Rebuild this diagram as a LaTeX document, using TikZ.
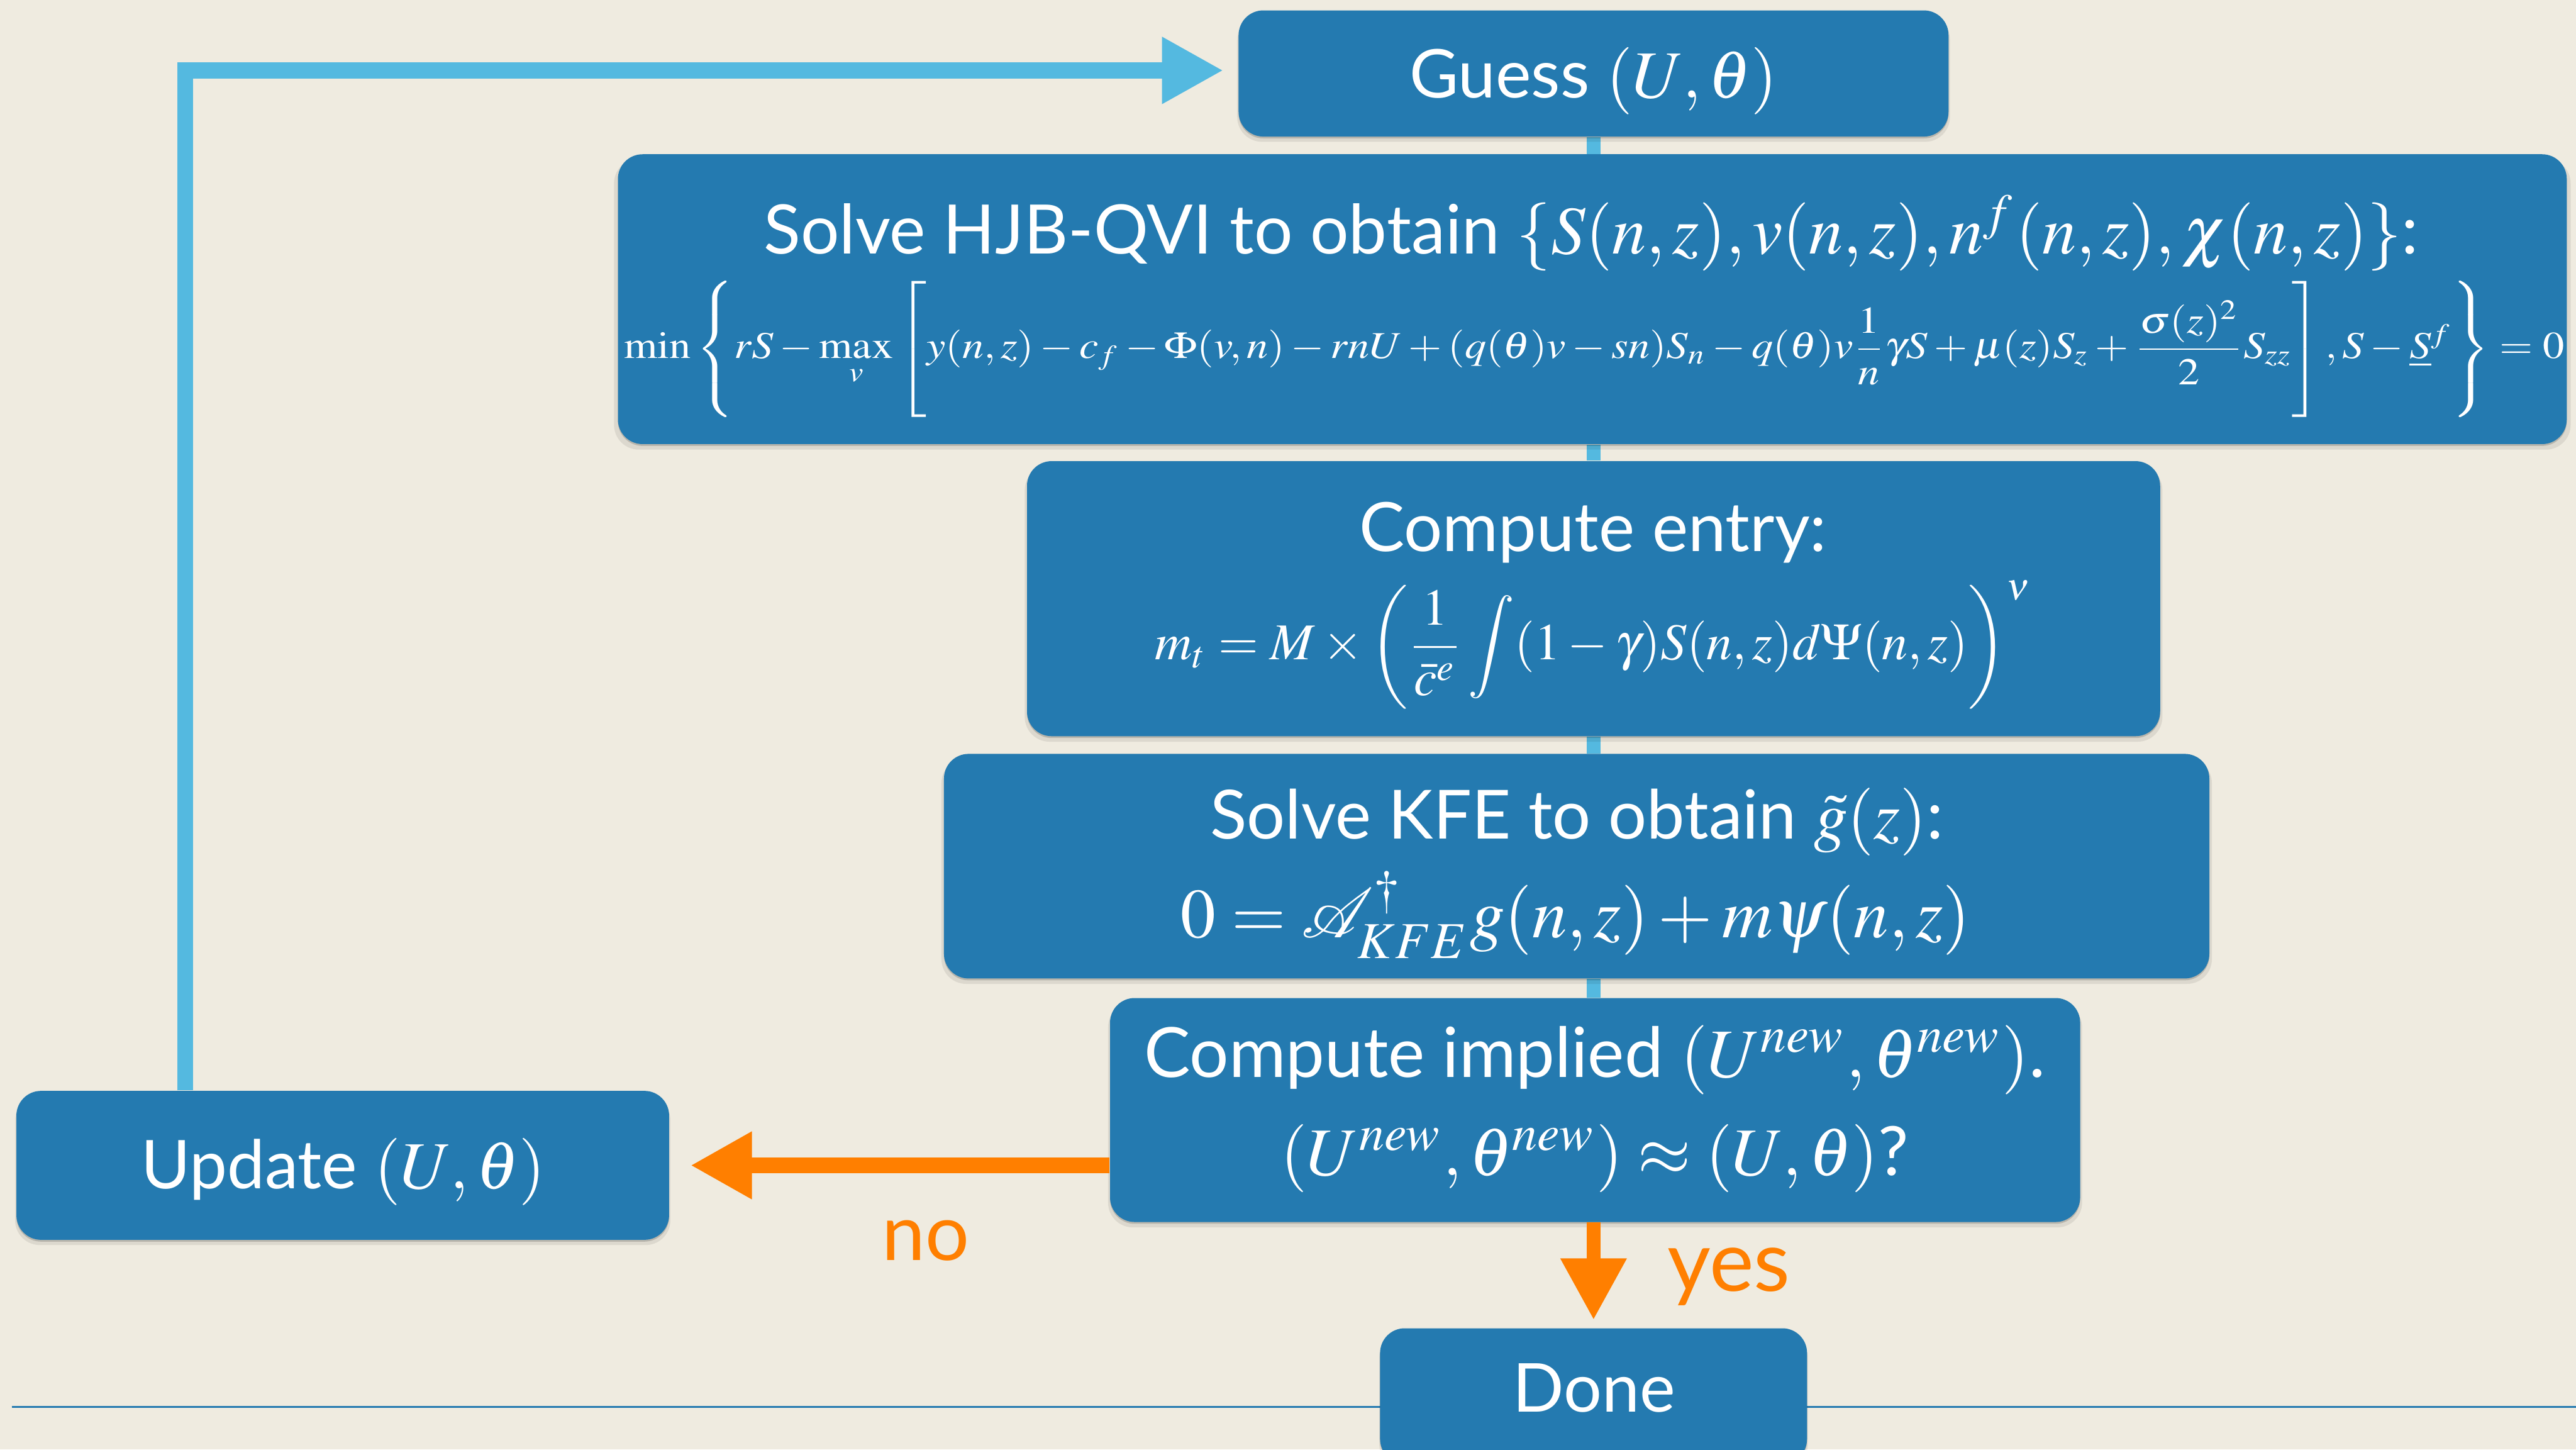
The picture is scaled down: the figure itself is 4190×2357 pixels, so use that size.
\documentclass[tikz,border=0pt]{standalone}
\usepackage{mathptmx}
\usepackage{graphicx}
\usepackage[no-math]{fontspec}
\setmainfont{Lato}
\usetikzlibrary{arrows.meta,shadows,calc}
\definecolor{bgc}{RGB}{239,235,224}
\definecolor{boxblue}{RGB}{36,122,176}
\definecolor{lightblue}{RGB}{84,185,224}
\definecolor{orng}{RGB}{255,127,0}
\pgfdeclarelayer{bglayer}
\pgfdeclarelayer{linelayer}
\pgfsetlayers{bglayer,linelayer,main}
\newcommand{\fitw}[2]{\resizebox{#1}{!}{#2}}
\newcommand{\tallstrut}{\vphantom{\rule[-1.5em]{0pt}{3.5em}}}
\begin{document}
\begin{tikzpicture}[x=0.01cm,y=-0.01cm,
  box/.style={fill=boxblue, rounded corners=0.4cm, inner sep=0pt, draw=none,
    general shadow={shadow yshift=-0.03cm, fill=black, opacity=0.16},
    general shadow={shadow yshift=-0.08cm, shadow scale=1.004, fill=black, opacity=0.08}},
  txt/.style={text=white, inner sep=0pt, anchor=base},
  lbl/.style={text=orng, inner sep=0pt, anchor=base},
  conn/.style={draw=lightblue, line width=0.22cm},
  looparrow/.style={draw=lightblue, line width=0.26cm, line join=miter,
    -{Triangle[length=1cm, width=1.02cm]}},
  noarrow/.style={draw=orng, line width=0.26cm, -{Triangle[length=1cm, width=1.03cm]}},
  yesarrow/.style={draw=orng, line width=0.22cm, -{Triangle[length=1cm, width=1.02cm]}}]
\useasboundingbox (0,0) rectangle (4190,2357);
\begin{pgfonlayer}{bglayer}
  \fill[bgc] (0,0) rectangle (4190,2357);
\end{pgfonlayer}
\clip (0,0) rectangle (4190,2357);

% boxes
\node[box, minimum width=11.54cm, minimum height=2.05cm] (guess) at (2592,119.5) {};
\node[box, minimum width=31.68cm, minimum height=4.71cm] (hjb) at (2590,486.5) {};
\node[box, minimum width=18.42cm, minimum height=4.47cm] (entry) at (2592,973.5) {};
\node[box, minimum width=20.57cm, minimum height=3.65cm] (kfe) at (2564.5,1408.5) {};
\node[box, minimum width=15.77cm, minimum height=3.64cm] (implied) at (2594.5,1805) {};
\node[box, minimum width=10.61cm, minimum height=2.42cm] (update) at (557.5,1895) {};
\node[box, minimum width=6.94cm, minimum height=2.20cm] (done) at (2592,2270) {};

% texts
\node[txt] (tguess) at (2592,159) {\fitw{5.98cm}{Guess $(U,\theta)$}};
\node[txt] (thjb) at (2588,413) {\fitw{26.90cm}{Solve HJB-QVI to obtain $\{S(n,z), v(n,z), n^f(n,z), \chi(n,z)\}$:}};
\node[txt] (thjbeq) at (2593,583) {\resizebox{31.54cm}{1.26cm}{$\displaystyle \min\left\{\tallstrut rS - \max_v \left[\tallstrut y(n,z) - c_f - \Phi(v,n) - rnU + (q(\theta)v - sn)S_n - q(\theta)v\frac{1}{n}\gamma S + \mu(z)S_z + \frac{\sigma(z)^2}{2}S_{zz}\right], S - \underline{S}^f \right\} = 0$}};
\node[txt] (tentry) at (2591,897) {\fitw{7.60cm}{Compute entry:}};
\node[txt] (tentryeq) at (2592,1073) {\fitw{14.25cm}{$\displaystyle m_t = M \times \left( \frac{1}{\bar{c}^e} \int (1-\gamma) S(n,z) d\Psi(n,z) \right)^{\nu}$}};
\node[txt] (tkfe) at (2565,1364) {\fitw{11.92cm}{Solve KFE to obtain $\tilde{g}(z)$:}};
\node[txt] (tkfeeq) at (2563,1525) {\fitw{12.83cm}{$0 = \mathcal{A}^{\dagger}_{KFE} g(n,z) + m\psi(n,z)$}};
\node[txt] (timp1) at (2594,1752) {\fitw{14.65cm}{Compute implied $(U^{new},\theta^{new})$.}};
\node[txt] (timp2) at (2594,1911) {\fitw{10.21cm}{$(U^{new},\theta^{new}) \approx (U,\theta)$?}};
\node[txt] (tupdate) at (558,1933) {\fitw{6.57cm}{Update $(U,\theta)$}};
\node[txt] (tdone) at (2593,2296) {\fitw{2.64cm}{Done}};
\node[lbl] (lno) at (1506,2049) {\fitw{1.42cm}{no}};
\node[lbl] (lyes) at (2812,2100) {\fitw{2.00cm}{yes}};

% connectors behind boxes
\begin{pgfonlayer}{linelayer}
  \draw[conn] (guess.south) -- (guess.south |- hjb.north);
  \draw[conn] (guess.south |- hjb.south) -- (guess.south |- entry.north);
  \draw[conn] (entry.south) -- (entry.south |- kfe.north);
  \draw[conn] (entry.south |- kfe.south) -- (entry.south |- implied.north);
  \draw[draw=boxblue, line width=0.03cm] (19,2288) -- (4190,2288);
\end{pgfonlayer}

% arrows
\draw[looparrow] ([xshift=2.75cm]update.north west) |- ([xshift=-0.24cm,yshift=0.05cm]guess.west);
\draw[noarrow] (implied.west |- update.east) -- ([xshift=0.34cm]update.east);
\draw[yesarrow] (done.north |- implied.south) -- ([yshift=0.13cm]done.north);
\end{tikzpicture}
\end{document}
